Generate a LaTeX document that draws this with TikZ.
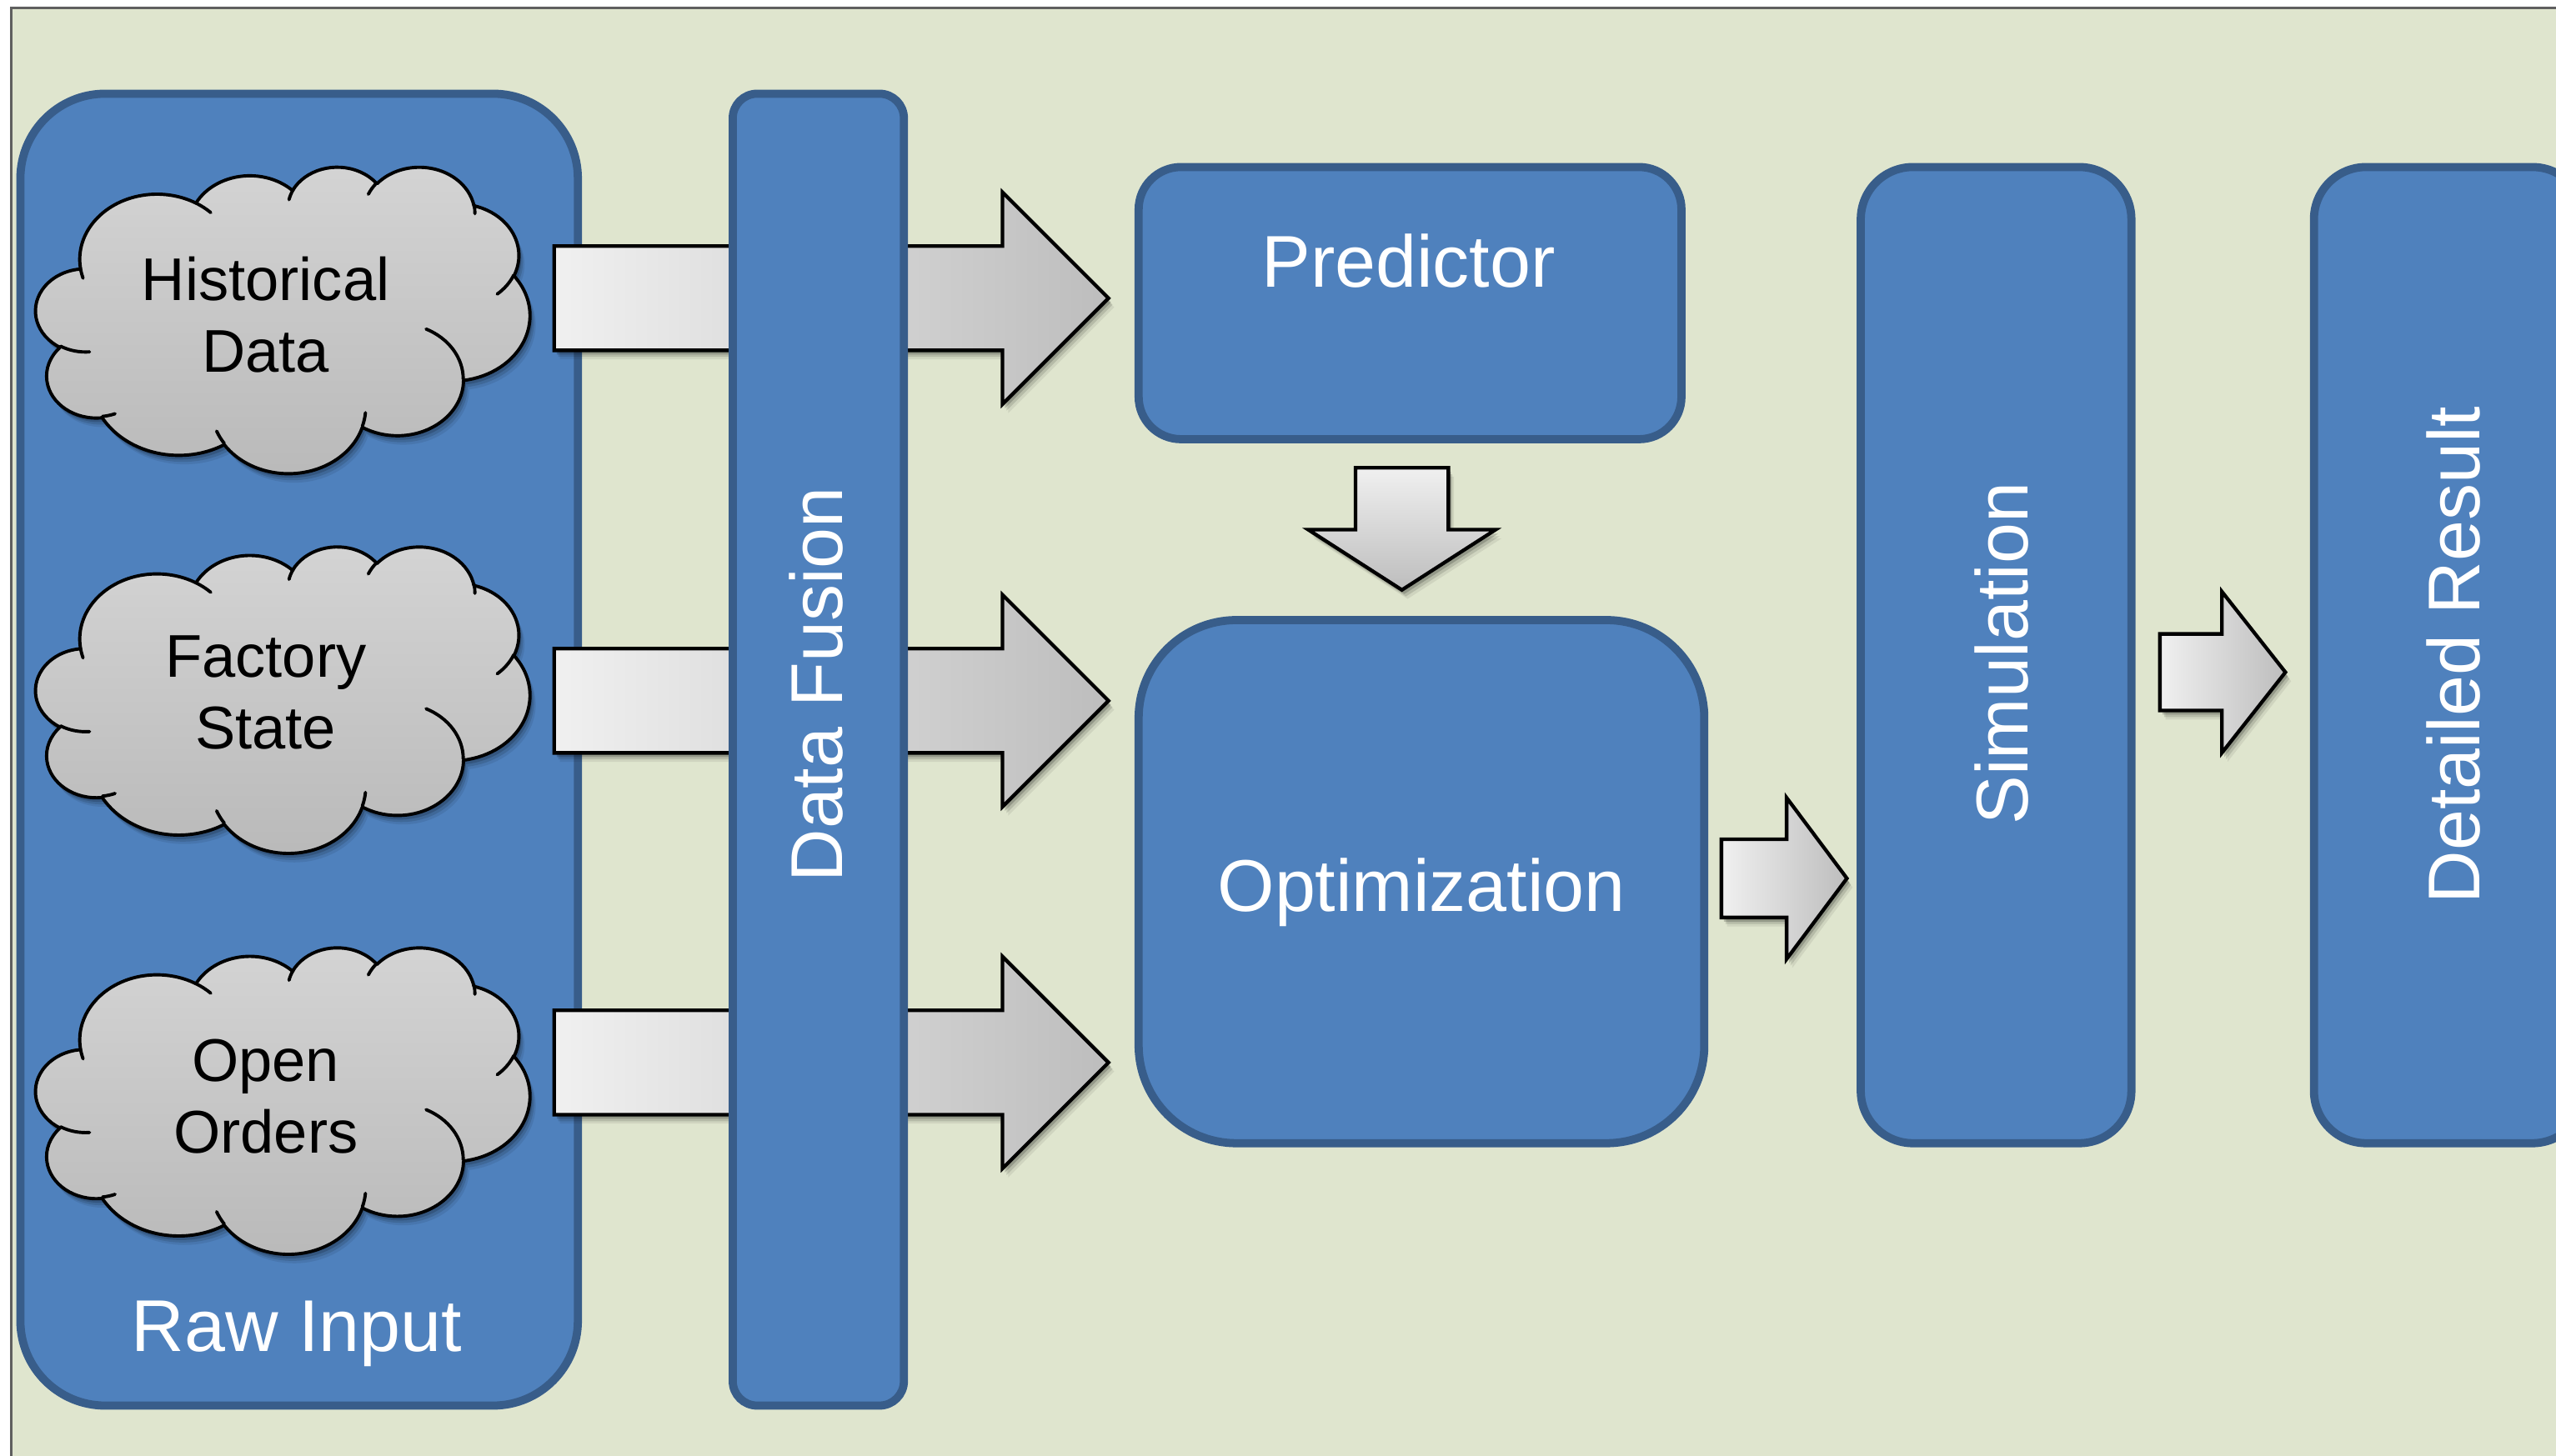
\documentclass[tikz,border=0pt]{standalone}
\usepackage{tikz}
\usepackage{fontspec}
\setmainfont{Liberation Sans}

\definecolor{paper}{HTML}{DFE5CE}
\definecolor{framegray}{HTML}{5F5F5F}
\definecolor{boxfill}{HTML}{4F81BD}
\definecolor{boxline}{HTML}{385D8A}
\definecolor{arrowlight}{HTML}{F0F0F0}
\definecolor{arrowdark}{HTML}{BDBDBD}
\definecolor{cloudlight}{HTML}{D4D4D4}
\definecolor{clouddark}{HTML}{B9B9B9}

% Cloud outline built from elliptic arcs whose end points are given as ray
% angles (clockwise, y down); TikZ arcs want parametric angles (y up).
% #1 name, #2 x radius, #3 y radius, #4 start ray angle, #5 sweep
\newcommand\cloudang[5]{%
  \pgfmathsetmacro\cloudA{atan2((#2)*sin(#4),(#3)*cos(#4))}%
  \pgfmathsetmacro\cloudB{atan2((#2)*sin((#4)+(#5)),(#3)*cos((#4)+(#5)))}%
  \pgfmathsetmacro\cloudD{\cloudB-\cloudA}%
  \pgfmathsetmacro\cloudD{\cloudD<0 ? \cloudD+360 : \cloudD}%
  \pgfmathsetmacro\cloudA{0-\cloudA}%
  \pgfmathsetmacro\cloudD{0-\cloudD}%
  \expandafter\xdef\csname cloudang#1s\endcsname{\cloudA}%
  \expandafter\xdef\csname cloudang#1d\endcsname{\cloudD}%
}
\newcommand\clv[1]{\csname cloudang#1\endcsname}
\newcommand\carc[3]{arc[start angle=\clv{#1s}, delta angle=\clv{#1d}, x radius=#2pt, y radius=#3pt]}

% outline
\cloudang{a}{67.53}{91.90}{-190.4875}{123.7805}
\cloudang{b}{53.33}{72.67}{-144.1024}{89.9452}
\cloudang{c}{43.65}{59.45}{-145.8079}{99.7230}
\cloudang{d}{48.57}{65.95}{-130.9861}{117.2417}
\cloudang{e}{53.33}{72.73}{-78.7089}{109.0269}
\cloudang{f}{67.75}{92.20}{-46.2673}{130.2690}
\cloudang{g}{57.85}{78.67}{0.6250}{114.0333}
\cloudang{h}{67.52}{92.15}{22.4516}{115.1726}
\cloudang{i}{77.20}{105.43}{66.2426}{75.7110}
\cloudang{j}{43.60}{59.18}{-274.9421}{146.7356}
\cloudang{k}{43.45}{59.45}{-246.8285}{152.5189}
% creases
\cloudang{l}{43.45}{59.45}{86.742}{26.430}
\cloudang{m}{43.60}{59.18}{73.610}{11.447}
\cloudang{n}{67.52}{92.15}{137.624}{14.081}
\cloudang{o}{67.52}{92.15}{6.453}{15.998}
\cloudang{p}{57.85}{78.67}{-70.292}{70.292}
\cloudang{q}{53.33}{72.73}{30.318}{27.752}
\cloudang{r}{48.57}{65.95}{-13.744}{14.859}
\cloudang{s}{48.57}{65.95}{-149.181}{18.195}
\cloudang{t}{43.65}{59.45}{-163.494}{17.686}
\cloudang{u}{67.53}{91.90}{-66.707}{12.319}
\cloudang{v}{67.53}{91.90}{157.654}{11.858}

\newcommand\cloudoutline{(39.00,-143.70)
  \carc{a}{67.53}{91.90} \carc{b}{53.33}{72.67} \carc{c}{43.65}{59.45}
  \carc{d}{48.57}{65.95} \carc{e}{53.33}{72.73} \carc{f}{67.75}{92.20}
  \carc{g}{57.85}{78.67} \carc{h}{67.52}{92.15} \carc{i}{77.20}{105.43}
  \carc{j}{43.60}{59.18} \carc{k}{43.45}{59.45} -- cycle}
\newcommand\cloudcreases{
  (46.93,-261.77) \carc{l}{43.45}{59.45}
  (69.28,-348.99) \carc{m}{43.60}{59.18}
  (164.78,-390.90) \carc{n}{67.52}{92.15}
  (288.27,-347.51) \carc{o}{67.52}{92.15}
  (341.29,-229.54) \carc{p}{57.85}{78.67}
  (417.98,-153.54) \carc{q}{53.33}{72.73}
  (383.24,-54.26) \carc{r}{48.57}{65.95}
  (290.78,-39.52) \carc{s}{48.57}{65.95}
  (221.41,-47.20) \carc{t}{43.65}{59.45}
  (140.00,-51.92) \carc{u}{67.53}{91.90}
  (41.27,-157.89) \carc{v}{67.53}{91.90}}

% cloud in a 303 x 188 box whose top left corner is (#1,#2)
\newcommand\drawcloud[2]{%
  \begin{scope}[shift={(#1,#2)}, x=1pt, y=1pt, xscale=303/432, yscale=188/432]
    \foreach \dx/\dy/\op in {1.5/2.5/0.16, 2.5/4/0.12, 3.5/5.5/0.08} {
      \fill[black, opacity=\op, shift={(\dx*432/303,-\dy*432/188)}] \cloudoutline;
    }
    \shade[top color=cloudlight, bottom color=clouddark] \cloudoutline;
    \draw[line width=2pt, line join=round] \cloudoutline;
    \draw[line width=2pt, line cap=round] \cloudcreases;
  \end{scope}}

% block arrow pointing right: tail x, tip x, centre y, half shaft, half head, head length
\newcommand\rightblock[6]{%
  \def\blockpath{({#1},{#3-#4}) -- ({#2-#6},{#3-#4}) -- ({#2-#6},{#3-#5}) -- ({#2},{#3})
    -- ({#2-#6},{#3+#5}) -- ({#2-#6},{#3+#4}) -- ({#1},{#3+#4}) -- cycle}%
  \foreach \dx/\dy/\op in {1.5/2.5/0.18, 2.5/4/0.12, 3.5/5.5/0.07} {
    \fill[black, opacity=\op, shift={(\dx,\dy)}] \blockpath;
  }
  \shadedraw[left color=arrowlight, right color=arrowdark, draw=black, line width=2.2pt] \blockpath;
}
% block arrow pointing down: centre x, tail y, tip y, half shaft, half head, head length
\newcommand\downblock[6]{%
  \def\blockpath{({#1-#4},{#2}) -- ({#1+#4},{#2}) -- ({#1+#4},{#3-#6}) -- ({#1+#5},{#3-#6})
    -- ({#1},{#3}) -- ({#1-#5},{#3-#6}) -- ({#1-#4},{#3-#6}) -- cycle}%
  \foreach \dx/\dy/\op in {1.5/2.5/0.18, 2.5/4/0.12, 3.5/5.5/0.07} {
    \fill[black, opacity=\op, shift={(\dx,\dy)}] \blockpath;
  }
  \shadedraw[top color=arrowlight, bottom color=arrowdark, draw=black, line width=2.2pt] \blockpath;
}

\tikzset{
  panel/.style={draw=boxline, fill=boxfill, line width=5pt, inner sep=0pt},
  bigtext/.style={text=white, font=\fontsize{45}{54}\selectfont, inner sep=0pt},
  cloudtext/.style={text=black, font=\fontsize{37}{44}\selectfont, align=center, inner sep=0pt},
}

\begin{document}
\begin{tikzpicture}[x=1pt, y=-1pt]
  \useasboundingbox (0,0) rectangle (1568,893);
  \clip (0,0) rectangle (1568,893);
  \fill[white] (0,0) rectangle (1568,893);
  \draw[draw=framegray, fill=paper, line width=1.5pt] (7,5) rectangle (1620,950);

  % input panel with the three data sources
  \node[panel, rounded corners=52pt, minimum width=342pt, minimum height=805pt] (raw) at (183.5,460) {};
  \node[bigtext, anchor=base] (rawlabel) at (182,829) {Raw Input};

  \drawcloud{22}{102}
  \drawcloud{22}{335}
  \drawcloud{22}{581}
  \node[cloudtext] (hist) at (163,193) {Historical\\Data};
  \node[cloudtext] (state) at (163,425) {Factory\\State};
  \node[cloudtext] (orders) at (163,673) {Open\\Orders};

  % flows from the sources, passing under the fusion bar
  \rightblock{340}{680}{183}{32}{65}{65}
  \rightblock{340}{680}{430}{32}{65}{65}
  \rightblock{340}{680}{652}{32}{65}{65}

  \node[panel, rounded corners=15pt, minimum width=105pt, minimum height=805pt] (fusion) at (502,460) {};
  \node[bigtext, rotate=90, anchor=base] (fusionlabel) at (517,420) {Data Fusion};

  % processing stages
  \node[panel, rounded corners=26pt, minimum width=333pt, minimum height=167pt] (pred) at (865,186) {};
  \node[bigtext, anchor=base] (predlabel) at (864,176) {Predictor};

  \node[panel, rounded corners=60pt, minimum width=347pt, minimum height=321pt] (opt) at (872,541) {};
  \node[bigtext, anchor=base] (optlabel) at (872,559) {Optimization};

  \node[panel, rounded corners=32pt, minimum width=166pt, minimum height=599pt] (sim) at (1224.5,402) {};
  \node[bigtext, rotate=90, anchor=base] (simlabel) at (1244,401) {Simulation};

  \node[panel, rounded corners=32pt, minimum width=166pt, minimum height=599pt] (result) at (1502.5,402) {};
  \node[bigtext, rotate=90, anchor=base] (resultlabel) at (1521,402) {Detailed Result};

  % stage-to-stage arrows
  \downblock{860}{287}{362}{28.5}{57.5}{37}
  \rightblock{1056}{1133}{539}{24}{49.5}{37}
  \rightblock{1325}{1402}{412.5}{23.5}{49.5}{39}
\end{tikzpicture}
\end{document}
